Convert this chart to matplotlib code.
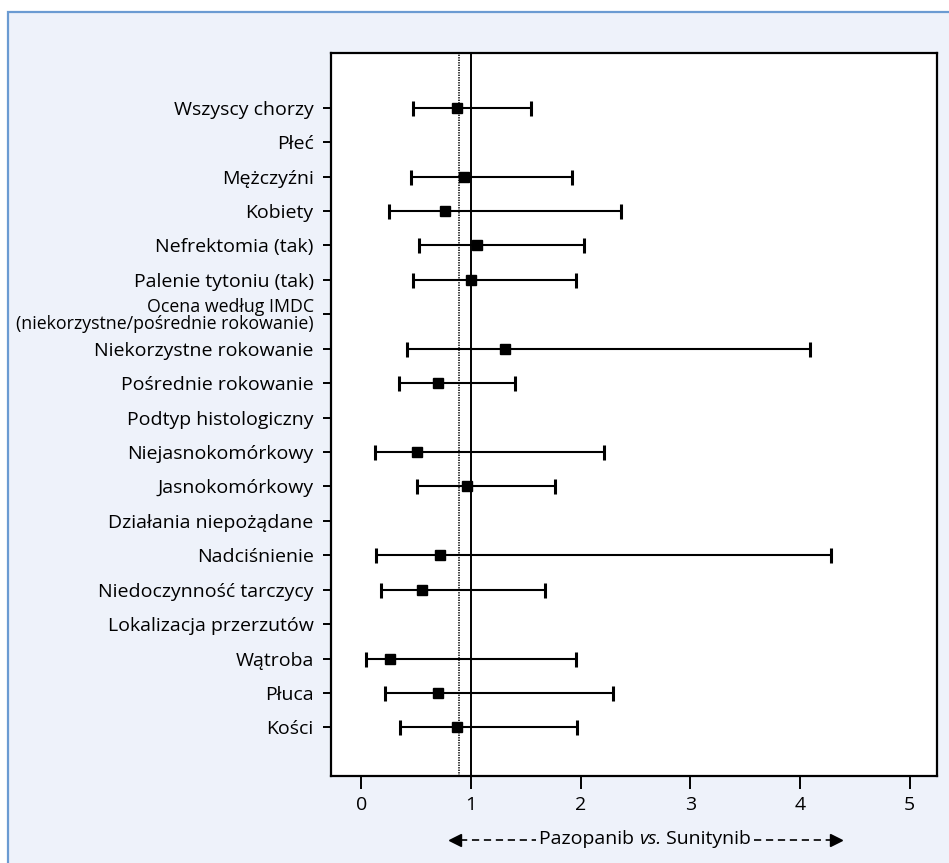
import matplotlib
matplotlib.use("Agg")
import matplotlib.pyplot as plt
from matplotlib.patches import Rectangle
from matplotlib.lines import Line2D

labels = [
    "Wszyscy chorzy", "Płeć", "Mężczyźni", "Kobiety", "Nefrektomia (tak)",
    "Palenie tytoniu (tak)",
    "Ocena według IMDC\n(niekorzystne/pośrednie rokowanie)",
    "Niekorzystne rokowanie", "Pośrednie rokowanie", "Podtyp histologiczny",
    "Niejasnokomórkowy", "Jasnokomórkowy", "Działania niepożądane",
    "Nadciśnienie", "Niedoczynność tarczycy", "Lokalizacja przerzutów",
    "Wątroba", "Płuca", "Kości",
]
hr = [0.875, None, 0.94, 0.76, 1.06, 1.00, None, 1.31, 0.70, None,
      0.51, 0.965, None, 0.72, 0.555, None, 0.265, 0.70, 0.875]
lo = [0.47, None, 0.45, 0.25, 0.53, 0.47, None, 0.42, 0.345, None,
      0.125, 0.51, None, 0.135, 0.185, None, 0.045, 0.215, 0.355]
hi = [1.55, None, 1.92, 2.37, 2.03, 1.955, None, 4.09, 1.40, None,
      2.21, 1.765, None, 4.28, 1.68, None, 1.96, 2.30, 1.97]
xticks = [0, 1, 2, 3, 4, 5]
ref_line = 1.0
overall_line = 0.89

FONT = ['Open Sans', 'DejaVu Sans']
plt.rcParams['font.family'] = FONT
plt.rcParams['lines.scale_dashes'] = False

W, H = 949, 863
fig = plt.figure(figsize=(W / 100, H / 100), dpi=100)
fig.patch.set_facecolor('white')

# light-blue frame (behind everything)
frame = Rectangle((8 / W, -0.01), 1.02, 1 - 12 / H + 0.01,
                  transform=fig.transFigure, facecolor='#eef2fa',
                  edgecolor='#6b9bd2', linewidth=1.6, zorder=-10)
fig.patches.append(frame)

ax = fig.add_axes([331 / W, 1 - 776 / H, (937 - 331) / W, (776 - 53) / H])
ax.set_zorder(1)
ax.set_facecolor('white')

ys = list(range(len(labels)))
for y, h, l, u in zip(ys, hr, lo, hi):
    if h is None:
        continue
    ax.errorbar([h], [y], xerr=[[h - l], [u - h]], fmt='s', color='black',
                markersize=7.3, elinewidth=1.5, capsize=5.4, capthick=2.2,
                zorder=3)

ax.axvline(ref_line, color='black', linewidth=1.4, zorder=2)
ax.axvline(overall_line, color='black', linewidth=1.1, linestyle=(0, (1, 0.8)),
           zorder=2)

ax.set_xlim(-0.275, 5.25)
ax.set_ylim(18 + 1.41, -1.59)
ax.set_yticks(ys)
ax.set_yticklabels(labels, fontsize=14, multialignment='right',
                   linespacing=0.9)
imdc = ax.get_yticklabels()[6]
imdc.set_fontsize(12.8)
ax.set_xticks(xticks)
ax.set_xticklabels([str(t) for t in xticks], fontsize=14)
ax.tick_params(axis='y', length=6, width=1.4, pad=6.5)
ax.tick_params(axis='x', length=9, width=1.4, pad=5.5)
for s in ax.spines.values():
    s.set_linewidth(1.6)

# arrow label: "◄------Pazopanib vs. Sunitynib------►"
fig.canvas.draw()
renderer = fig.canvas.get_renderer()
yc = 839
pieces = [("Pazopanib ", 'normal'), ("vs.", 'italic'), (" Sunitynib", 'normal')]
texts = []
for s, st in pieces:
    t = fig.text(0, 1 - yc / H, s, fontsize=14, style=st, family=FONT,
                 va='center', ha='left')
    texts.append(t)
widths = [t.get_window_extent(renderer).width for t in texts]
total = sum(widths)
cx = 645
x0 = cx - total / 2
left_text = x0
for t, w in zip(texts, widths):
    t.set_x(x0 / W)
    x0 += w
right_text = x0

left_tip, right_tip = 449, 842
ydash = yc + 1
for xa, xb in [(left_tip + 11, left_text - 3), (right_text + 3, right_tip - 11)]:
    fig.add_artist(Line2D([xa / W, xb / W], [1 - ydash / H, 1 - ydash / H],
                          transform=fig.transFigure, color='black',
                          linewidth=1.2, dashes=(5.2, 3.4)))
fig.add_artist(Line2D([(left_tip + 6) / W], [1 - ydash / H], marker='<',
                      markersize=9, color='black', linestyle='none',
                      transform=fig.transFigure))
fig.add_artist(Line2D([(right_tip - 6) / W], [1 - ydash / H], marker='>',
                      markersize=9, color='black', linestyle='none',
                      transform=fig.transFigure))

fig.savefig("out.png", dpi=100, facecolor=fig.get_facecolor())
